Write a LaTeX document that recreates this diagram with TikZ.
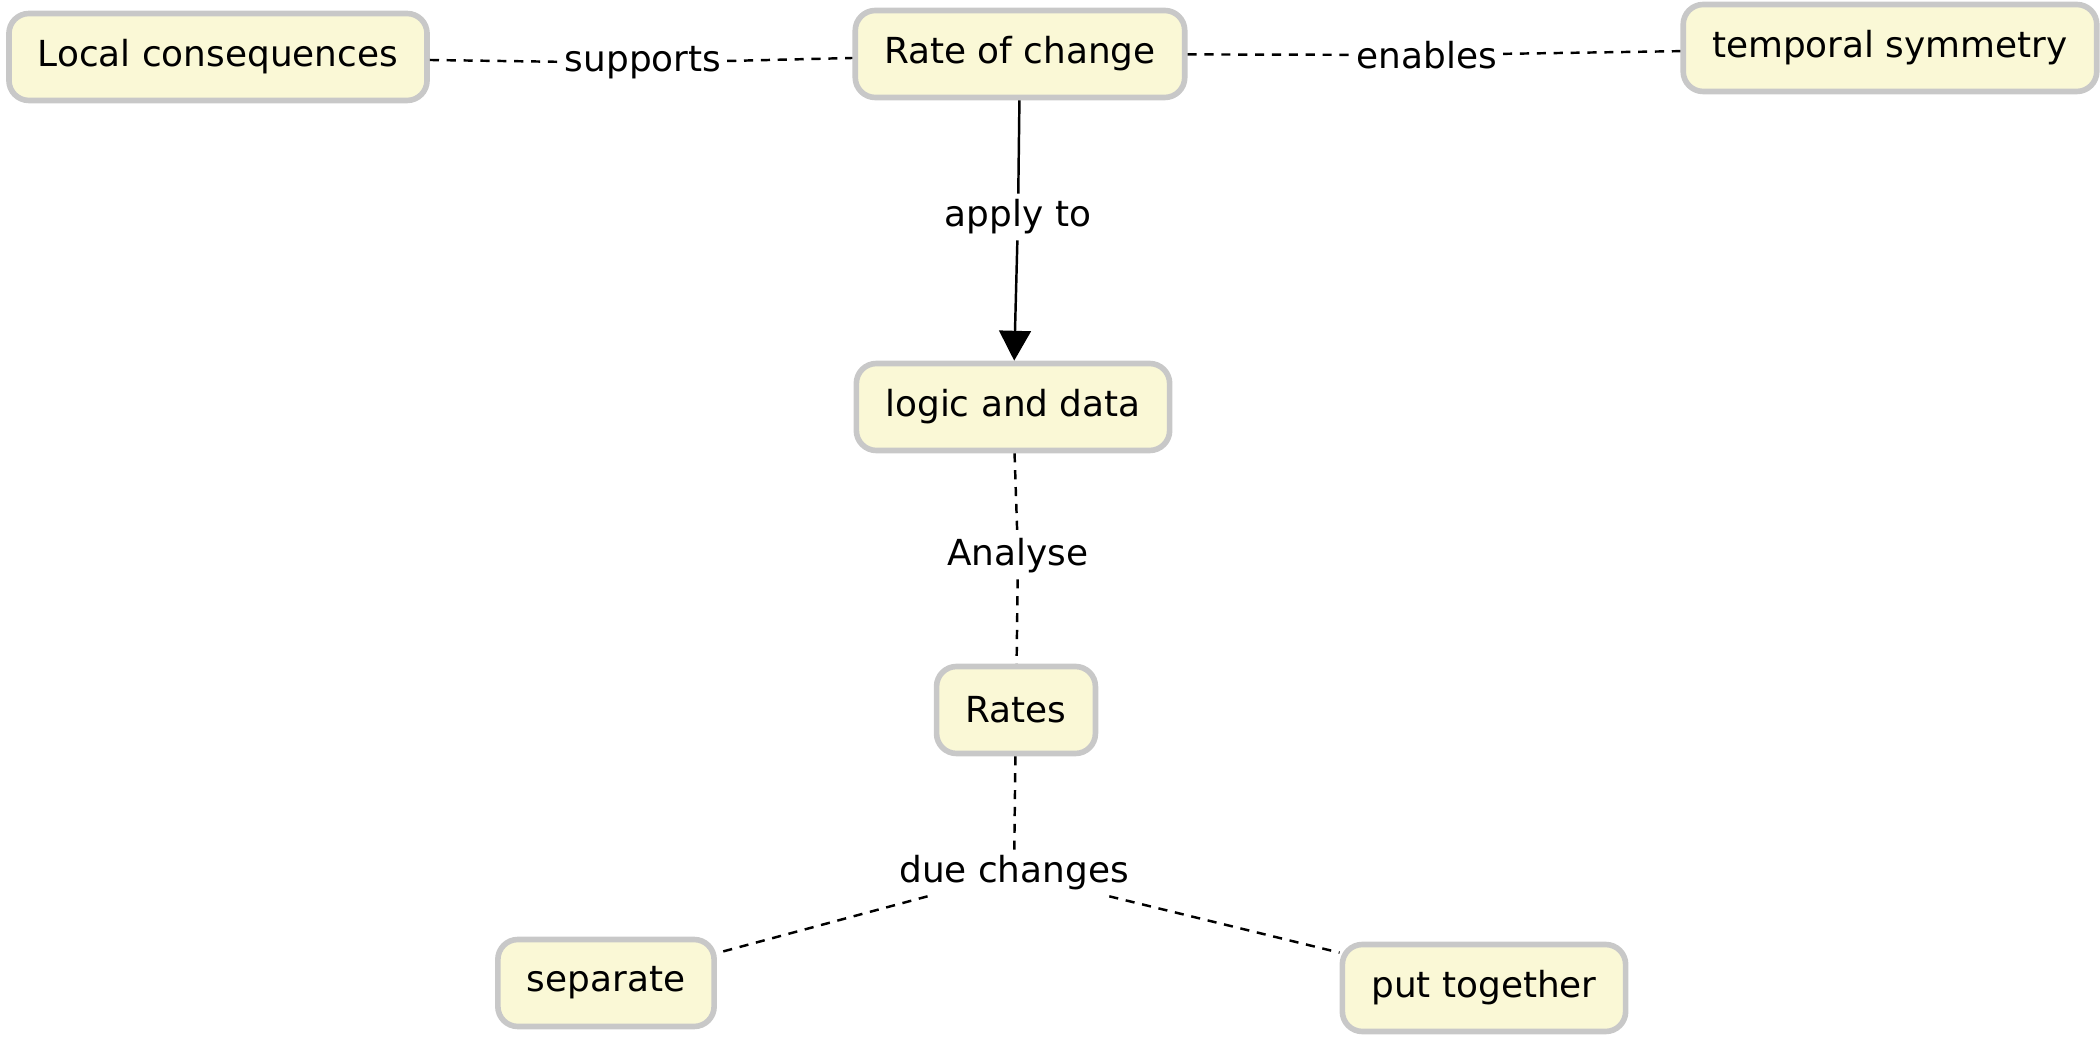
\documentclass[tikz,border=0pt]{standalone}
\usepackage{fontspec}
\setmainfont{DejaVu Sans}
\usetikzlibrary{arrows.meta}
\definecolor{cfill}{RGB}{250,248,214}
\definecolor{cline}{RGB}{200,200,200}
\begin{document}
\begin{tikzpicture}[font=\fontsize{10.2}{12}\selectfont, line join=round,
  concept/.style={draw=cline, line width=1.6pt, fill=cfill, rounded corners=0.2cm, inner xsep=0.29cm, minimum height=0.87cm},
  phrase/.style={fill=white, inner sep=1.5pt},
  link/.style={line width=0.7pt, dash pattern=on 2.6pt off 2.2pt},
  >={Triangle[length=8.5pt,width=9pt]}]
\useasboundingbox (0,0) rectangle (21,-10.4);
% concepts
\node[concept] (loc) at (2.18,-0.57) {Local consequences};
\node[concept] (roc) at (10.2,-0.54) {Rate of change};
\node[concept] (tem) at (18.9,-0.48) {temporal symmetry};
\node[concept] (lad) at (10.13,-4.07) {logic and data};
\node[concept] (rat) at (10.16,-7.1) {Rates};
\node[concept] (sep) at (6.06,-9.83) {separate};
\node[concept] (put) at (14.84,-9.88) {put together};
% linking phrases
\node[phrase] (sup) at (6.43,-0.63) {supports};
\node[phrase] (ena) at (14.27,-0.55) {enables};
\node[phrase] (app) at (10.18,-2.17) {apply to};
\node[phrase] (ana) at (10.18,-5.56) {Analyse};
\node[phrase] (due) at (10.14,-8.73) {due changes};
% links
\draw[link] (loc) -- (sup) -- (roc);
\draw[link] (roc) -- (ena) -- (tem);
\draw[line width=0.7pt] (roc) -- (app);
\draw[line width=0.7pt,->] (app) -- (lad);
\draw[link] (lad) -- (ana) -- (rat);
\draw[link] (rat) -- (due);
\draw[link] (due) -- (sep);
\draw[link] (due) -- (put);
\end{tikzpicture}
\end{document}
